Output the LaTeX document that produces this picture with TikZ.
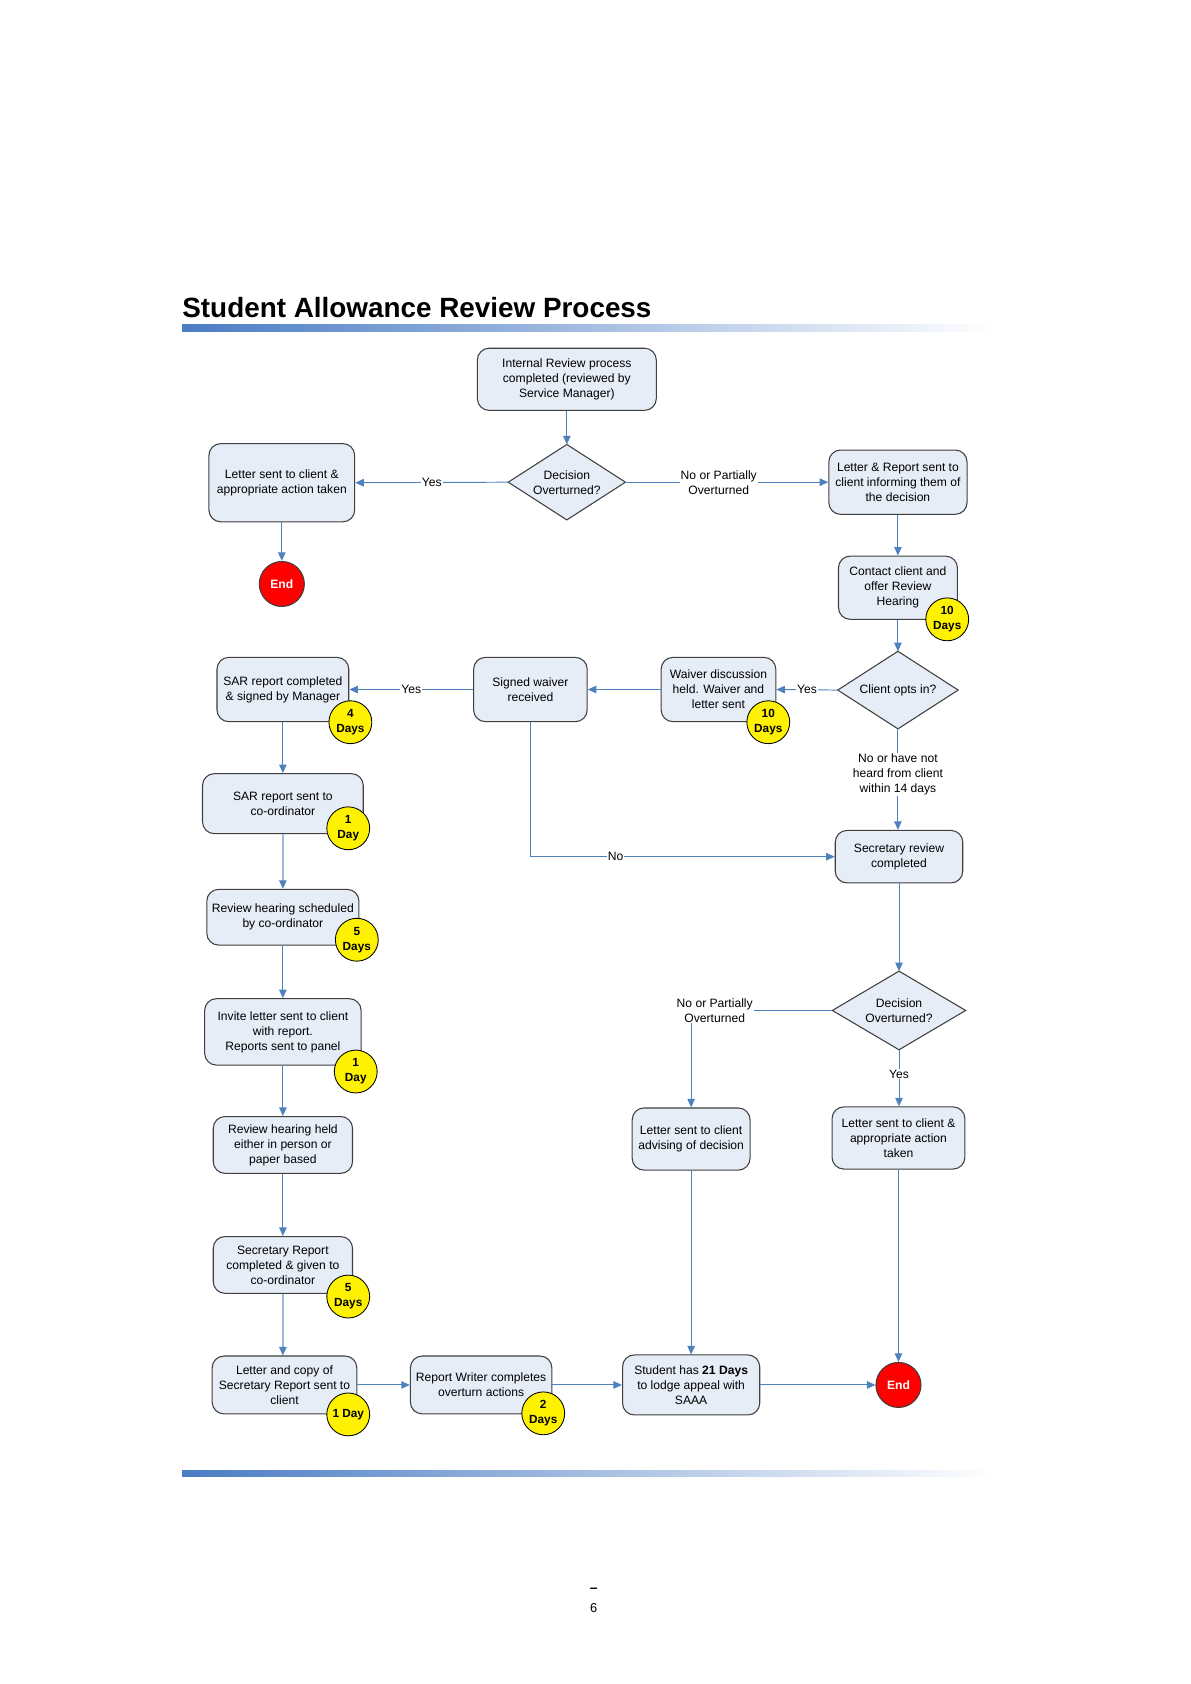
\documentclass[tikz,border=0pt]{standalone}
\usepackage{fontspec}
\setmainfont{Liberation Sans}
\usetikzlibrary{arrows.meta}
\definecolor{boxfill}{RGB}{230,237,247}
\definecolor{boxline}{RGB}{64,64,64}
\definecolor{conn}{RGB}{79,129,189}
\definecolor{connlight}{RGB}{160,186,222}
\definecolor{barblue}{RGB}{74,124,196}
\newcommand\mydiam[6]{%
  \node[minimum width=#4pt,minimum height=#5pt,inner sep=0pt] (#1) at (#2,#3) {};
  \draw[draw=boxline,line width=1pt,fill=boxfill] (#1.north)--(#1.east)--(#1.south)--(#1.west)--cycle;
  \node[txt] (#1t) at (#1) {#6};}
\begin{document}
\begin{tikzpicture}[x=1pt,y=-1pt,
  txt/.style={align=center,font=\fontsize{11.3}{14}\selectfont,inner sep=0pt},
  box/.style={draw=boxline,line width=1pt,fill=boxfill,rounded corners=11pt,align=center,font=\fontsize{11.3}{14}\selectfont,inner sep=1pt},
  badge/.style={circle,draw=black,line width=0.8pt,fill=yellow,minimum size=40pt,inner sep=0pt,align=center,font=\bfseries\fontsize{11}{14}\selectfont},
  endc/.style={circle,draw=boxline,line width=1pt,fill=red,minimum size=42pt,inner sep=0pt,text=white,font=\bfseries\fontsize{11.3}{14}\selectfont},
  arr/.style={draw=conn,line width=0.9pt,-{Triangle[length=8pt,width=7pt,color=conn]}},
  arrl/.style={draw=connlight,line width=1.2pt,-{Triangle[length=8pt,width=7pt,color=conn]}},
  lbl/.style={fill=white,inner sep=1pt,align=center,font=\fontsize{11.3}{14}\selectfont},
]
\useasboundingbox (0,0) rectangle (1110.6,1571.6);

% title and bars
\node[anchor=base west,inner sep=0pt,font=\bfseries\fontsize{26}{30}\selectfont] (title) at (170,296) {Student Allowance Review Process};
\shade[left color=barblue,right color=white] (170,303) rectangle (930,309);
\shade[left color=barblue,right color=white] (170,1372) rectangle (930,1378);

% top part
\node[box,minimum width=167pt,minimum height=58pt] (ir) at (529,354) {Internal Review process\\completed (reviewed by\\Service Manager)};
\mydiam{d1}{529}{450}{109}{70}{Decision\\Overturned?}
\node[box,minimum width=136pt,minimum height=73pt] (l1) at (263,450.5) {Letter sent to client \&\\appropriate action taken};
\node[endc] (end1) at (263,545) {End};
\node[box,minimum width=129pt,minimum height=60pt] (r1) at (838,450) {Letter \& Report sent to\\client informing them of\\the decision};
\node[box,minimum width=111pt,minimum height=59pt] (contact) at (838,548.5) {Contact client and\\offer Review\\Hearing};
\mydiam{d2}{838}{644}{112}{72}{Client opts in?}
\node[box,minimum width=107pt,minimum height=60pt] (waiver) at (670.5,643.5) {Waiver discussion\\held. Waiver and\\letter sent};
\node[box,minimum width=106pt,minimum height=60pt] (signed) at (495,643.5) {Signed waiver\\received};
\node[box,minimum width=123pt,minimum height=60pt] (sar1) at (264,643.5) {SAR report completed\\\& signed by Manager};

% left column
\node[box,minimum width=150pt,minimum height=56pt] (sar2) at (264,750) {SAR report sent to\\co-ordinator};
\node[box,minimum width=142pt,minimum height=52pt] (rhs) at (264,856) {Review hearing scheduled\\by co-ordinator};
\node[box,minimum width=146pt,minimum height=62pt] (invite) at (264,963) {Invite letter sent to client\\with report.\\Reports sent to panel};
\node[box,minimum width=130pt,minimum height=53pt] (rhh) at (264,1068.5) {Review hearing held\\either in person or\\paper based};
\node[box,minimum width=130pt,minimum height=53pt] (secrep) at (264,1180.5) {Secretary Report\\completed \& given to\\co-ordinator};
\node[box,minimum width=135pt,minimum height=54pt] (lcopy) at (265.5,1292.5) {Letter and copy of\\Secretary Report sent to\\client};

% bottom row
\node[box,minimum width=132pt,minimum height=54pt] (rw) at (449,1292.5) {Report Writer completes\\overturn actions};
\node[box,minimum width=128pt,minimum height=56pt] (student) at (645,1292.5) {Student has \textbf{21 Days}\\to lodge appeal with\\SAAA};
\node[endc] (end2) at (838.5,1292.5) {End};

% right column
\node[box,minimum width=119pt,minimum height=49pt] (secrev) at (839,799.5) {Secretary review\\completed};
\mydiam{d3}{839}{943}{124}{73}{Decision\\Overturned?}
\node[box,minimum width=110pt,minimum height=58pt] (adv) at (645,1063) {Letter sent to client\\advising of decision};
\node[box,minimum width=124pt,minimum height=58pt] (r3) at (838.5,1062) {Letter sent to client \&\\appropriate action\\taken};

% connectors
\draw[arr] (ir) -- (d1.north);
\draw[arr] (d1.west) -- node[lbl]{Yes} (l1.east);
\draw[arr] (d1.east) -- node[lbl,pos=0.46]{No or Partially\\Overturned} (r1.west);
\draw[arr] (l1) -- (end1);
\draw[arr] (r1) -- (contact);
\draw[arr] (contact) -- (d2.north);
\draw[arr] (d2.west) -- node[lbl]{Yes} (waiver.east);
\draw[arr] (waiver) -- (signed);
\draw[arr] (signed) -- node[lbl]{Yes} (sar1);
\draw[arr] (signed.south) |- node[lbl,pos=0.64]{No} (secrev.west);
\draw[arr] (d2.south) -- node[lbl,pos=0.45]{No or have not\\heard from client\\within 14 days} (secrev.north -| d2.south);
\draw[arr] (sar1) -- (sar2);
\draw[arrl] (sar2) -- (rhs);
\draw[arr] (rhs) -- (invite);
\draw[arr] (invite) -- (rhh);
\draw[arr] (rhh) -- (secrep);
\draw[arrl] (secrep.south) -- (secrep.south |- lcopy.north);
\draw[arr] (lcopy) -- (rw);
\draw[arr] (rw) -- (student);
\draw[arr] (student) -- (end2);
\draw[arr] (secrev) -- (d3.north);
\draw[arr] (d3.west) -| node[lbl,pos=0.5,xshift=22pt]{No or Partially\\Overturned} (adv.north);
\draw[arr] (d3.south) -- node[lbl,pos=0.43]{Yes} (r3.north -| d3.south);
\draw[arr] (r3) -- (end2);
\draw[arr] (adv) -- (student);

% badges
\node[badge] (b1) at (884,578) {10\\Days};
\node[badge] (b2) at (717,674) {10\\Days};
\node[badge] (b3) at (327,674) {4\\Days};
\node[badge] (b4) at (325,773) {1\\Day};
\node[badge] (b5) at (333,877) {5\\Days};
\node[badge] (b6) at (332,1000) {1\\Day};
\node[badge] (b7) at (325,1210) {5\\Days};
\node[badge] (b8) at (325,1320) {1 Day};
\node[badge] (b9) at (507,1319) {2\\Days};

% page number
\node[inner sep=0pt,font=\bfseries\fontsize{13}{14}\selectfont] (dash) at (554,1484) {–};
\node[inner sep=0pt,font=\fontsize{12}{14}\selectfont] (pg) at (554,1501) {6};
\end{tikzpicture}
\end{document}
